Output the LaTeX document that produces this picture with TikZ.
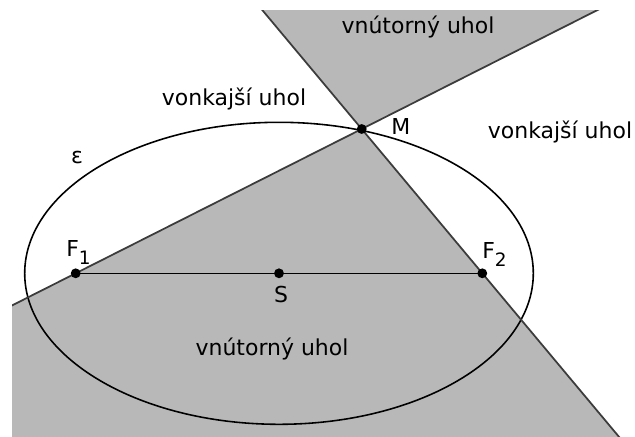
\documentclass[tikz,border=0pt]{standalone}
\usepackage{fontspec}
\setmainfont{DejaVu Sans}
\usetikzlibrary{calc, positioning}

\definecolor{anglegray}{RGB}{184,184,184}
\definecolor{linegray}{RGB}{60,60,60}
\newcommand{\lowidx}[1]{\raisebox{-5pt}{\fontsize{10.5}{11}\selectfont #1}}

\begin{document}
\begin{tikzpicture}[
    x=0.02cm, y=-0.02cm,
    font=\fontsize{12.5}{14}\selectfont,
    angle/.style={fill=anglegray}, % Style for the angle regions
    leg/.style={linegray, line width=1pt}, % Style for the lines through M
    conic/.style={black, line width=0.9pt}, % Style for the ellipse
    dot/.style={circle, fill=black, inner sep=0pt, minimum size=5.6pt}, % Style for points
    tag/.style={anchor=base} % Style for the texts
]
    \useasboundingbox (0,0) rectangle (635,436);

    % Points
    \coordinate (F1) at (75.7,273.3);
    \coordinate (F2) at (482.3,273.3);
    \coordinate (S) at (279,273.3);
    \coordinate (M) at (361.7,129);

    % Far ends of the two lines
    \coordinate (A1) at ($(M)!2.5!(F1)$);
    \coordinate (B1) at ($(M)!-2!(F1)$);
    \coordinate (A2) at ($(M)!4!(F2)$);
    \coordinate (B2) at ($(M)!-2!(F2)$);

    \begin{scope}
        \clip (12,10) rectangle (635,436);
        % Angle regions
        \fill[angle] (M) -- (A1) -- (A2) -- cycle;
        \fill[angle] (M) -- (B1) -- (B2) -- cycle;
        % Ellipse
        \draw[conic] (S) ellipse [x radius=254.3, y radius=151];
        % Lines F1M and F2M
        \draw[leg] (A1) -- (B1);
        \draw[leg] (A2) -- (B2);
    \end{scope}

    % Segment F1F2
    \draw[conic] (F1) -- (F2);

    \node[dot] at (F1) {};
    \node[dot] at (F2) {};
    \node[dot] at (S) {};
    \node[dot] at (M) {};

    % Labels
    \node[tag] (topin) at (418,33) {vnútorný uhol};
    \node[tag] (leftout) at (234,105) {vonkajší uhol};
    \node[tag] (rightout) at (560,138) {vonkajší uhol};
    \node[tag] (botin) at (272,355) {vnútorný uhol};
    \node (eps) at (77,157) {ε};
    \node[anchor=base west, inner sep=0pt] (lM) at (391,134) {M};
    \node[anchor=base west, inner sep=0pt] (lF1) at (66,256) {F\lowidx{1}};
    \node[anchor=base west, inner sep=0pt] (lF2) at (482,258) {F\lowidx{2}};
    \node[tag, inner sep=0pt] (lS) at (281,302) {S};

\end{tikzpicture}
\end{document}
